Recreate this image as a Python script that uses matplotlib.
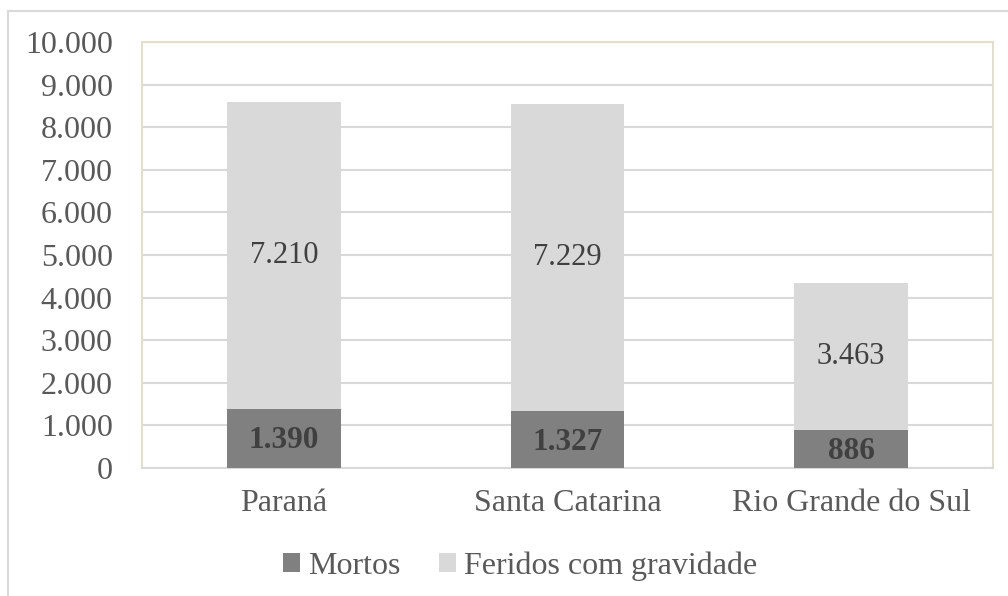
import matplotlib.pyplot as plt
from matplotlib.patches import Rectangle
from matplotlib.ticker import FuncFormatter

plt.rcParams['font.family'] = ['Liberation Serif', 'DejaVu Serif']

# -------- DATA --------
estados = ["Paraná", "Santa Catarina", "Rio Grande do Sul"]
mortos = [1390, 1327, 886]
feridos = [7210, 7229, 3463]

c_mortos = "#808080"
c_feridos = "#d9d9d9"
c_text = "#595959"

fig = plt.figure(figsize=(10.08, 5.96), dpi=100)
ax = fig.add_axes([0.1409, 0.2148, 0.8442, 0.7147])

# outer chart border
fig.patches.append(Rectangle((8/1008, -0.1), 1.1, 1 - 11/596 + 0.1,
                             transform=fig.transFigure, fill=False,
                             edgecolor="#d9d9d9", linewidth=1.5))

x = range(len(estados))
b1 = ax.bar(x, mortos, width=0.4, color=c_mortos, zorder=3)
b2 = ax.bar(x, feridos, width=0.4, bottom=mortos, color=c_feridos, zorder=3)

fmt = lambda v: f"{v:,.0f}".replace(",", ".")

for i in x:
    ax.text(i, mortos[i] / 2 - 60, fmt(mortos[i]), ha="center", va="center",
            fontsize=22.5, fontweight="bold", color="#404040", zorder=4)
    ax.text(i, mortos[i] + feridos[i] / 2, fmt(feridos[i]), ha="center",
            va="center", fontsize=22, color="#404040", zorder=4)

ax.set_xlim(-0.5, 2.5)
ax.set_ylim(0, 10000)
ax.set_yticks(range(0, 10001, 1000))
ax.yaxis.set_major_formatter(FuncFormatter(lambda v, p: fmt(v)))
ax.set_xticks(list(x))
ax.set_xticklabels(estados)
ax.tick_params(axis="both", length=0, labelsize=23, labelcolor=c_text)
ax.tick_params(axis="y", pad=21)
ax.tick_params(axis="x", pad=15)

ax.grid(axis="y", color="#d9d9d9", linewidth=1.5, zorder=0)
for s in ["left", "top", "right"]:
    ax.spines[s].set_color("#e3dfcc")
    ax.spines[s].set_linewidth(1.5)
ax.spines["bottom"].set_color("#d9d9d9")
ax.spines["bottom"].set_linewidth(1.5)

leg = fig.legend([b1, b2], ["Mortos", "Feridos com gravidade"], ncol=2,
                 loc="center", bbox_to_anchor=(0.516, 0.05), frameon=False,
                 fontsize=23, handlelength=0.55, handleheight=0.55,
                 handletextpad=0.25, columnspacing=1.2)
for t in leg.get_texts():
    t.set_color(c_text)

fig.savefig("out.png", dpi=100)
